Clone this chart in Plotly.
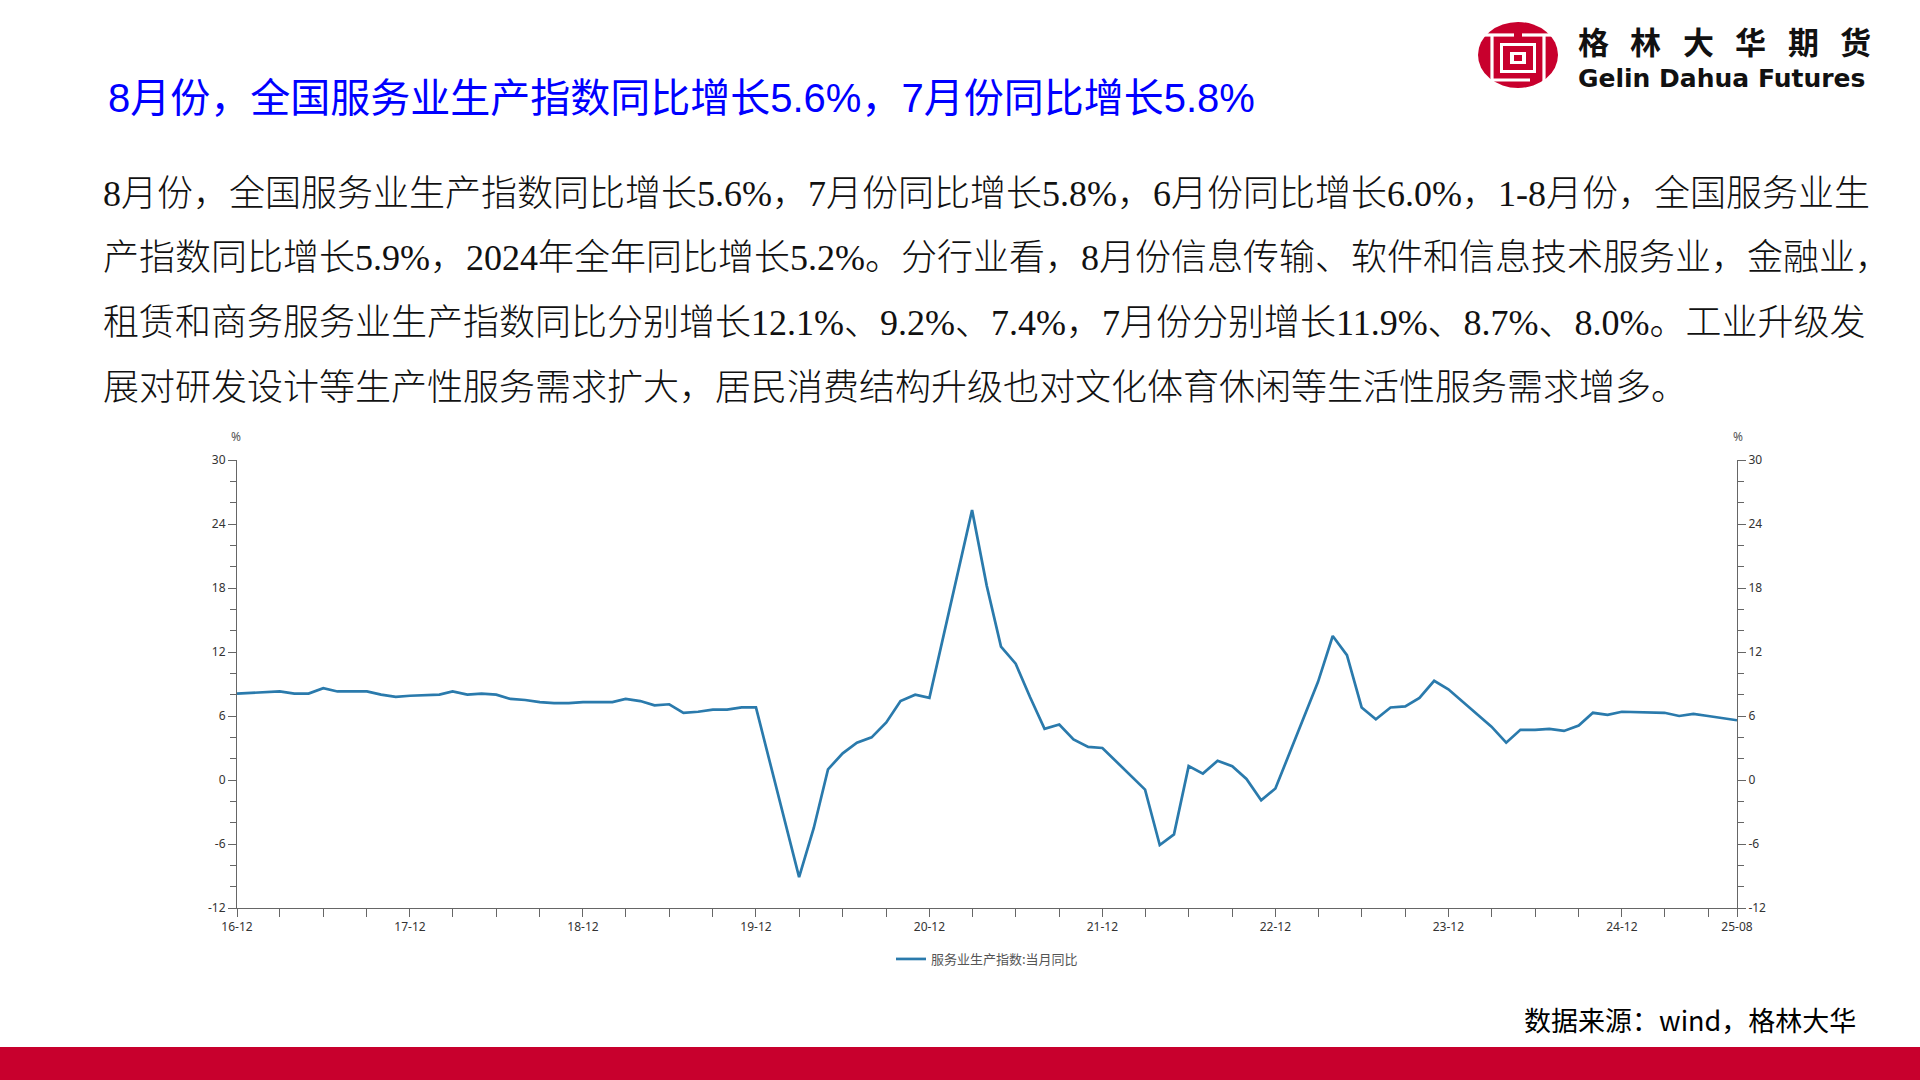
import plotly.graph_objects as go

# ---------------- data ----------------
months = [
    "2016-12",
    "2017-02", "2017-03", "2017-04", "2017-05", "2017-06", "2017-07", "2017-08", "2017-09", "2017-10", "2017-11", "2017-12",
    "2018-02", "2018-03", "2018-04", "2018-05", "2018-06", "2018-07", "2018-08", "2018-09", "2018-10", "2018-11", "2018-12",
    "2019-02", "2019-03", "2019-04", "2019-05", "2019-06", "2019-07", "2019-08", "2019-09", "2019-10", "2019-11", "2019-12",
    "2020-03", "2020-04", "2020-05", "2020-06", "2020-07", "2020-08", "2020-09", "2020-10", "2020-11", "2020-12",
    "2021-03", "2021-04", "2021-05", "2021-06", "2021-07", "2021-08", "2021-09", "2021-10", "2021-11", "2021-12",
    "2022-03", "2022-04", "2022-05", "2022-06", "2022-07", "2022-08", "2022-09", "2022-10", "2022-11", "2022-12",
    "2023-03", "2023-04", "2023-05", "2023-06", "2023-07", "2023-08", "2023-09", "2023-10", "2023-11", "2023-12",
    "2024-03", "2024-04", "2024-05", "2024-06", "2024-07", "2024-08", "2024-09", "2024-10", "2024-11", "2024-12",
    "2025-03", "2025-04", "2025-05", "2025-06", "2025-07", "2025-08",
]
service_yoy = [
    8.1,
    8.2, 8.3, 8.1, 8.1, 8.6, 8.3, 8.3, 8.3, 8.0, 7.8, 7.9,
    8.0, 8.3, 8.0, 8.1, 8.0, 7.6, 7.5, 7.3, 7.2, 7.2, 7.3,
    7.3, 7.6, 7.4, 7.0, 7.1, 6.3, 6.4, 6.6, 6.6, 6.8, 6.8,
    -9.1, -4.5, 1.0, 2.5, 3.5, 4.0, 5.4, 7.4, 8.0, 7.7,
    25.3, 18.2, 12.5, 10.9, 7.8, 4.8, 5.2, 3.8, 3.1, 3.0,
    -0.9, -6.1, -5.1, 1.3, 0.6, 1.8, 1.3, 0.1, -1.9, -0.8,
    9.2, 13.5, 11.7, 6.8, 5.7, 6.8, 6.9, 7.7, 9.3, 8.5,
    5.0, 3.5, 4.7, 4.7, 4.8, 4.6, 5.1, 6.3, 6.1, 6.4,
    6.3, 6.0, 6.2, 6.0, 5.8, 5.6,
]
series_name = "服务业生产指数:当月同比"

x_tick_vals = ["2016-12-01", "2017-12-01", "2018-12-01", "2019-12-01", "2020-12-01",
               "2021-12-01", "2022-12-01", "2023-12-01", "2024-12-01", "2025-08-01"]
x_tick_text = ["16-12", "17-12", "18-12", "19-12", "20-12", "21-12", "22-12", "23-12", "24-12", "25-08"]
y_tick_vals = [-12, -6, 0, 6, 12, 18, 24, 30]
y_tick_text = ["-12", "-6", "0", "6", "12", "18", "24", "30"]

title_text = "8月份，全国服务业生产指数同比增长5.6%，7月份同比增长5.8%"
body_lines = [
    "8月份，全国服务业生产指数同比增长5.6%，7月份同比增长5.8%，6月份同比增长6.0%，1-8月份，全国服务业生",
    "产指数同比增长5.9%，2024年全年同比增长5.2%。分行业看，8月份信息传输、软件和信息技术服务业，金融业，",
    "租赁和商务服务业生产指数同比分别增长12.1%、9.2%、7.4%，7月份分别增长11.9%、8.7%、8.0%。工业升级发",
    "展对研发设计等生产性服务需求扩大，居民消费结构升级也对文化体育休闲等生活性服务需求增多。",
]
source_text = "数据来源：wind，格林大华"
logo_cn = "格林大华期货"
logo_en = "Gelin Dahua Futures"

# ---------------- layout geometry ----------------
W, H = 1920, 1080
ML, MR, MT, MB = 237, 183, 460, 172
PW, PH = W - ML - MR, H - MT - MB


def px(xp):
    return (xp - ML) / PW


def py(yp):
    return (H - MB - yp) / PH


LINE_COLOR = "#2a7aac"
AXIS_COLOR = "#666666"
TICK_FONT = dict(family="Noto Sans, Open Sans, sans-serif", size=12, color="#333333")

fig = go.Figure()
fig.add_trace(go.Scatter(
    x=months, y=service_yoy, mode="lines", name=series_name,
    line=dict(color=LINE_COLOR, width=2.7),
))
# same series on right axis (transparent) so the right axis is drawn
fig.add_trace(go.Scatter(
    x=months, y=service_yoy, mode="lines", yaxis="y2", showlegend=False,
    line=dict(color="rgba(0,0,0,0)", width=0), hoverinfo="skip",
))

yaxis_common = dict(
    range=[-12, 30], tickmode="array", tickvals=y_tick_vals, ticktext=y_tick_text,
    ticks="outside", ticklen=8, tickwidth=1, tickcolor=AXIS_COLOR,
    showline=True, linecolor=AXIS_COLOR, linewidth=1,
    showgrid=False, zeroline=False, tickfont=TICK_FONT,
    minor=dict(dtick=2, tick0=0, ticks="outside", ticklen=6, tickcolor=AXIS_COLOR, showgrid=False),
)

fig.update_layout(
    width=W, height=H,
    margin=dict(l=ML, r=MR, t=MT, b=MB, autoexpand=False),
    paper_bgcolor="white", plot_bgcolor="white",
    xaxis=dict(
        type="date", range=["2016-12-01", "2025-08-01"],
        tickmode="array", tickvals=x_tick_vals, ticktext=x_tick_text,
        ticks="outside", ticklen=8, tickwidth=1, tickcolor=AXIS_COLOR,
        showline=True, linecolor=AXIS_COLOR, linewidth=1,
        showgrid=False, zeroline=False, tickfont=TICK_FONT,
        minor=dict(dtick="M3", tick0="2016-12-01", ticks="outside", ticklen=8,
                   tickcolor=AXIS_COLOR, showgrid=False),
    ),
    yaxis=dict(side="left", **yaxis_common),
    yaxis2=dict(side="right", overlaying="y", **yaxis_common),
    showlegend=True,
    legend=dict(
        orientation="h", x=0.5, xanchor="center", y=py(959), yanchor="middle",
        font=dict(family="Noto Sans CJK SC, sans-serif", size=13, color="#555555"),
        bgcolor="rgba(0,0,0,0)",
    ),
)

annotations = []
# unit labels
for xp in (236, 1738):
    annotations.append(dict(
        text="%", x=px(xp), y=py(436), xref="paper", yref="paper",
        xanchor="center", yanchor="middle", showarrow=False,
        font=dict(family="Noto Sans, sans-serif", size=12, color="#555555"),
    ))

# title
annotations.append(dict(
    text=title_text, x=px(106), y=py(98), xref="paper", yref="paper",
    xanchor="left", yanchor="middle", showarrow=False,
    font=dict(family="Liberation Sans, Arial, Noto Sans CJK SC, sans-serif", size=40, color="#0000ff"),
))

# body paragraph
for i, line in enumerate(body_lines):
    annotations.append(dict(
        text=line, x=px(101), y=py(194 + i * 64.5), xref="paper", yref="paper",
        xanchor="left", yanchor="middle", showarrow=False,
        font=dict(family="Liberation Serif, Noto Sans CJK SC, serif", size=36, color="#111111",
                  weight=300),
    ))

# source
annotations.append(dict(
    text=source_text, x=px(1858), y=py(1019), xref="paper", yref="paper",
    xanchor="right", yanchor="middle", showarrow=False,
    font=dict(family="Noto Sans CJK SC, sans-serif", size=27, color="#000000"),
))

# logo text
for i, ch in enumerate(logo_cn):
    annotations.append(dict(
        text="<b>" + ch + "</b>", x=px(1593 + i * 52.5), y=py(40), xref="paper", yref="paper",
        xanchor="center", yanchor="middle", showarrow=False,
        font=dict(family="Noto Sans CJK SC, sans-serif", size=31, color="#111111"),
    ))
annotations.append(dict(
    text="<b>" + logo_en + "</b>", x=px(1576), y=py(78), xref="paper", yref="paper",
    xanchor="left", yanchor="middle", showarrow=False,
    font=dict(family="DejaVu Sans, Liberation Sans, sans-serif", size=25, color="#111111"),
))
fig.update_layout(annotations=annotations)

RED = "#c8002d"
shapes = []
# bottom red band
shapes.append(dict(type="rect", xref="paper", yref="paper",
                   x0=px(-5), x1=px(W + 5), y0=py(1047), y1=py(H + 5),
                   fillcolor=RED, line=dict(width=0), layer="above"))
# emblem
cx, cy, rx, ry = 1518, 55, 40, 33
shapes.append(dict(type="circle", xref="paper", yref="paper",
                   x0=px(cx - rx), x1=px(cx + rx), y0=py(cy - ry), y1=py(cy + ry),
                   fillcolor=RED, line=dict(width=0), layer="above"))


def wline(x0, y0, x1, y1, w=3.2):
    shapes.append(dict(type="line", xref="paper", yref="paper",
                       x0=px(x0), x1=px(x1), y0=py(y0), y1=py(y1),
                       line=dict(color="white", width=w), layer="above"))


def wrect(x0, y0, x1, y1, fill="white"):
    shapes.append(dict(type="rect", xref="paper", yref="paper",
                       x0=px(x0), x1=px(x1), y0=py(y0), y1=py(y1),
                       fillcolor=fill, line=dict(width=0), layer="above"))


# top horizontal white gap with central stem
wline(1483, 35, 1514, 35)
wline(1522, 35, 1553, 35)
# side vertical gaps
wline(1492, 35, 1492, 90)
wline(1544, 35, 1544, 90)
# bottom white line
wline(1492, 80, 1530, 80)
# inner 回 shape
wrect(1500, 43, 1536, 73)
wrect(1503, 46, 1533, 70, fill=RED)
wrect(1510, 52, 1526, 64)
wrect(1514, 55, 1522, 61, fill=RED)
fig.update_layout(shapes=shapes)

fig.write_html(
    "out.html",
    config={"displayModeBar": False},
    post_script="document.body.style.margin='0px';document.body.style.padding='0px';"
                "document.body.style.overflow='hidden';",
)
